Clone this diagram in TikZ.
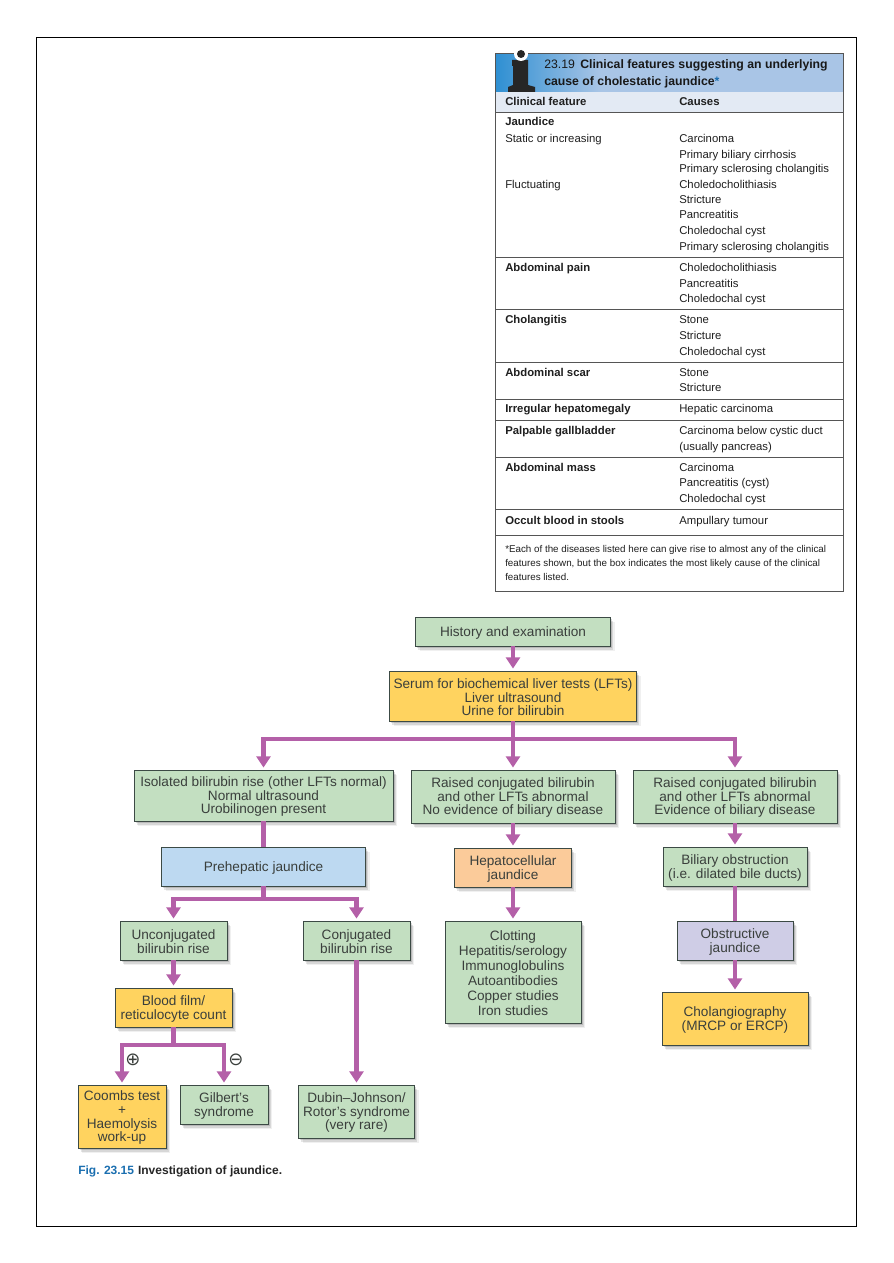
\documentclass[tikz,border=0pt]{standalone}
\usepackage{fontspec}
\setmainfont{Liberation Sans}
\newfontfamily\symfont{DejaVu Sans}
\usetikzlibrary{arrows.meta,shadows,calc}
\definecolor{boxgreen}{HTML}{C3DFC1}
\definecolor{boxyellow}{HTML}{FFD35F}
\definecolor{boxblue}{HTML}{BDD9F1}
\definecolor{boxorange}{HTML}{FBCB9A}
\definecolor{boxlilac}{HTML}{CFCDE6}
\definecolor{edgecol}{HTML}{3C4A45}
\definecolor{conncol}{HTML}{B460A8}
\definecolor{hdrdark}{HTML}{2E8FD2}
\definecolor{hdrlight}{HTML}{A9C5E6}
\definecolor{subhdr}{HTML}{E3EAF4}
\definecolor{figblue}{HTML}{1B6FB0}
\definecolor{boxtext}{HTML}{3A3F3C}
\definecolor{rulecol}{HTML}{555555}
\newcounter{tc}
\tikzset{
  flowbox/.style={draw=edgecol,line width=0.6pt,align=center,inner sep=0pt,text=boxtext,
    font=\fontsize{10.2}{10.2}\selectfont,
    general shadow={fill=black,opacity=.06,shadow xshift=3.2pt,shadow yshift=-3.8pt},
    general shadow={fill=black,opacity=.10,shadow xshift=2.2pt,shadow yshift=-2.8pt},
    general shadow={fill=black,opacity=.14,shadow xshift=1.2pt,shadow yshift=-1.6pt}},
  conn/.style={draw=conncol,line width=3.7pt},
  connarrow/.style={conn,-{Triangle[width=10.5pt,length=8.5pt]},shorten >=1.5pt},
  tabletext/.style={inner sep=0pt,anchor=base west,text=black!88,font=\fontsize{8.5}{9}\selectfont},
  tablebold/.style={tabletext,font=\fontsize{8.5}{9}\selectfont\bfseries},
  tablerule/.style={draw=rulecol,line width=0.6pt},
  sign/.style={inner sep=0pt,text=boxtext,font=\symfont\fontsize{13.5}{14}\selectfont}
}
\newcommand{\bx}[7]{\node[flowbox,fill=#2,minimum width={(#5-#3)*0.75pt},minimum height={(#6-#4)*0.75pt}] (#1) at ({(#3+#5)/2},{(#4+#6)/2}) {\rule{0pt}{9.2pt}#7};}
\newcommand{\tl}[2]{\stepcounter{tc}\node[tabletext] (tl\arabic{tc}) at (505,#1+3.5) {#2};}
\newcommand{\tb}[2]{\stepcounter{tc}\node[tablebold] (tl\arabic{tc}) at (505,#1+3.5) {#2};}
\newcommand{\tr}[2]{\stepcounter{tc}\node[tabletext] (tl\arabic{tc}) at (679,#1+3.5) {#2};}
\begin{document}
\begin{tikzpicture}[x=0.75pt,y=-0.75pt]
\useasboundingbox (0,0) rectangle (893,1263);
\fill[white] (0,0) rectangle (893,1263);
\draw[black,line width=0.7pt] (36,37) rectangle (856,1226);

% table
\fill[subhdr] (495,92) rectangle (843,112);
\fill[hdrlight] (600,53.4) rectangle (843,92);
\shade[left color=hdrdark,right color=hdrlight,shading angle=90] (495,54) rectangle (600.5,92);
\draw[tablerule] (495,53) rectangle (843,591);
\foreach \yy in {112,257,309,362,399,420,457,509,535} \draw[tablerule] (495,\yy) -- (843,\yy);
% i icon
\fill[black!85] (512,60) -- (528,60) -- (528,85) -- (535,87) -- (535,92) -- (508,92) -- (508,87) -- (513,85) -- (513,66) -- (512,66) -- cycle;
\fill[white] (521,54) circle (7);
\fill[black!85] (521,54) circle (4);
\node[inner sep=0pt,anchor=base west,text=black!90,font=\fontsize{9.2}{9}\selectfont] (h1) at (544,69) {23.19\hspace{4pt}\textbf{Clinical features suggesting an underlying}};
\node[inner sep=0pt,anchor=base west,text=black!90,font=\fontsize{9.2}{9}\selectfont\bfseries] (h2) at (544,85.5) {cause of cholestatic jaundice\textcolor{figblue}{*}};
\node[tablebold] (ch1) at (505,105) {Clinical feature};
\node[tablebold] (ch2) at (679,105) {Causes};
\tb{122}{Jaundice}
\tl{139}{Static or increasing}
\tr{139}{Carcinoma}
\tr{154.5}{Primary biliary cirrhosis}
\tr{169}{Primary sclerosing cholangitis}
\tl{185}{Fluctuating}
\tr{185}{Choledocholithiasis}
\tr{200}{Stricture}
\tr{215}{Pancreatitis}
\tr{230.5}{Choledochal cyst}
\tr{247}{Primary sclerosing cholangitis}
\tb{268}{Abdominal pain}
\tr{268}{Choledocholithiasis}
\tr{284}{Pancreatitis}
\tr{299}{Choledochal cyst}
\tb{320}{Cholangitis}
\tr{320}{Stone}
\tr{336}{Stricture}
\tr{352}{Choledochal cyst}
\tb{373}{Abdominal scar}
\tr{373}{Stone}
\tr{388}{Stricture}
\tb{409}{Irregular hepatomegaly}
\tr{409}{Hepatic carcinoma}
\tb{431}{Palpable gallbladder}
\tr{431}{Carcinoma below cystic duct}
\tr{447}{(usually pancreas)}
\tb{468}{Abdominal mass}
\tr{468}{Carcinoma}
\tr{483}{Pancreatitis (cyst)}
\tr{499}{Choledochal cyst}
\tb{521}{Occult blood in stools}
\tr{521}{Ampullary tumour}
\node[tabletext,font=\fontsize{7.35}{8}\selectfont] (f1) at (505,552) {*Each of the diseases listed here can give rise to almost any of the clinical};
\node[tabletext,font=\fontsize{7.35}{8}\selectfont] (f2) at (505,566.5) {features shown, but the box indicates the most likely cause of the clinical};
\node[tabletext,font=\fontsize{7.35}{8}\selectfont] (f3) at (505,580) {features listed.};

% flowchart boxes
\bx{hist}{boxgreen}{415.5}{617}{610.5}{646}{History and examination}
\bx{serum}{boxyellow}{389.5}{671}{636.5}{721}{Serum for biochemical liver tests (LFTs)\\Liver ultrasound\\Urine for bilirubin}
\bx{iso}{boxgreen}{134}{770}{393}{821}{Isolated bilirubin rise (other LFTs normal)\\Normal ultrasound\\Urobilinogen present}
\bx{raisa}{boxgreen}{411}{770}{615}{823}{Raised conjugated bilirubin\\and other LFTs abnormal\\No evidence of biliary disease}
\bx{raisb}{boxgreen}{633}{770}{837}{823}{Raised conjugated bilirubin\\and other LFTs abnormal\\Evidence of biliary disease}
\bx{pre}{boxblue}{161.5}{847}{365.5}{886}{Prehepatic jaundice}
\bx{hep}{boxorange}{454.5}{848}{571.5}{887}{Hepatocellular\\jaundice}
\bx{bil}{boxgreen}{663}{847}{807}{886}{Biliary obstruction\\(i.e. dilated bile ducts)}
\bx{obs}{boxlilac}{677}{921}{793}{960}{Obstructive\\jaundice}
\bx{chol}{boxyellow}{662}{992}{808}{1045}{Cholangiography\\(MRCP or ERCP)}
\bx{clot}{boxgreen}{445}{921}{581}{1023}{Clotting\\[1pt]Hepatitis/serology\\[1pt]Immunoglobulins\\[1pt]Autoantibodies\\[1pt]Copper studies\\[1pt]Iron studies}
\bx{unc}{boxgreen}{120}{921}{227}{960}{Unconjugated\\bilirubin rise}
\bx{con}{boxgreen}{303}{921}{410}{960}{Conjugated\\bilirubin rise}
\bx{blood}{boxyellow}{115}{988}{232}{1027}{Blood film/\\reticulocyte count}
\bx{coom}{boxyellow}{78}{1085}{166}{1148}{Coombs test\\+\\Haemolysis\\work-up}
\bx{gil}{boxgreen}{180}{1085}{268}{1124}{Gilbert's\\syndrome}
\bx{dub}{boxgreen}{298.5}{1085}{414.5}{1138}{Dubin--Johnson/\\Rotor's syndrome\\(very rare)}

% branch points
\coordinate (sa) at (513,739);
\coordinate (sb) at (263.5,899);
\coordinate (sc) at (173.5,1045);

% connectors
\draw[connarrow] (hist) -- (serum);
\draw[conn] (serum) -- (sa);
\draw[connarrow] (sa) -| (iso);
\draw[connarrow] (sa) -- (raisa);
\draw[connarrow] (sa) -| (raisb);
\draw[conn] (iso) -- (pre);
\draw[connarrow] (raisa) -- (hep);
\draw[connarrow] (raisb) -- (bil);
\draw[connarrow] (hep) -- (clot);
\draw[conn] (bil) -- (obs);
\draw[connarrow] (obs) -- (chol);
\draw[conn] (pre) -- (sb);
\draw[connarrow] (sb) -| (unc);
\draw[connarrow] (sb) -| (con);
\draw[connarrow] (unc) -- (blood);
\draw[connarrow] (con) -- (dub);
\draw[conn] (blood) -- (sc);
\draw[connarrow] (sc) -| (coom);
\draw[connarrow] (sc) -| (gil);

% signs
\node[sign] (plus) at (133,1060) {⊕};
\node[sign] (minus) at (236,1060) {⊖};

% caption
\node[inner sep=0pt,anchor=base west,font=\fontsize{9}{9}\selectfont\bfseries,text=black!85] (cap) at (78,1174.5) {\textcolor{figblue}{Fig. 23.15}\hspace{3pt}Investigation of jaundice.};
\end{tikzpicture}
\end{document}
